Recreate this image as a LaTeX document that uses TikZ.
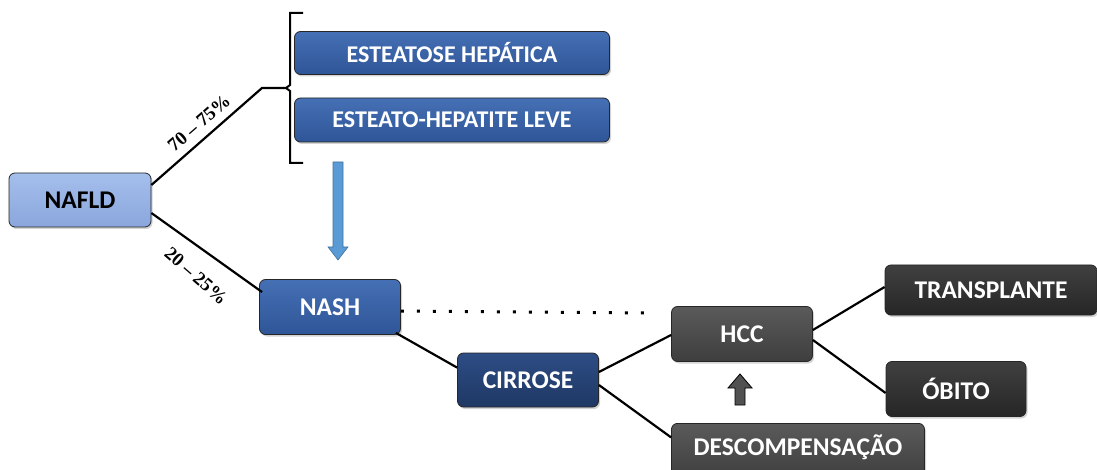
\documentclass[tikz,border=0pt]{standalone}
\usepackage{fontspec}
\setmainfont{Carlito}
\newfontfamily\serifb{Liberation Serif}
\usetikzlibrary{shadows,calc}
\definecolor{nafldtop}{HTML}{A5BFEC}
\definecolor{nafldbot}{HTML}{8AA6DC}
\definecolor{bluetop}{HTML}{4670B5}
\definecolor{bluebot}{HTML}{2E5597}
\definecolor{navytop}{HTML}{2D4D85}
\definecolor{navybot}{HTML}{1F3864}
\definecolor{graytop}{HTML}{5A5A5A}
\definecolor{graybot}{HTML}{3E3E3E}
\definecolor{darktop}{HTML}{404040}
\definecolor{darkbot}{HTML}{262626}
\definecolor{arrowblue}{HTML}{5B9BD5}
\definecolor{arrowbd}{HTML}{41719C}
\begin{document}
\begin{tikzpicture}[x=1pt,y=-1pt,
  box/.style={draw=black!85,line width=0.8pt,rounded corners=6pt,
    font=\fontsize{25.5}{30}\selectfont\bfseries,text=white,
    drop shadow={shadow xshift=1.5pt,shadow yshift=-2pt,opacity=0.35},
    inner sep=0pt},
  lightbox/.style={box,top color=nafldtop,bottom color=nafldbot,text=black},
  bluebox/.style={box,top color=bluetop,bottom color=bluebot},
  longbox/.style={bluebox,font=\fontsize{24}{28}\selectfont\bfseries},
  navybox/.style={box,top color=navytop,bottom color=navybot},
  graybox/.style={box,top color=graytop,bottom color=graybot},
  darkbox/.style={box,top color=darktop,bottom color=darkbot},
  conn/.style={line width=2.2pt,black},
  pct/.style={font=\serifb\fontsize{19}{22}\selectfont\bfseries,inner sep=1pt}]
\useasboundingbox (0,0) rectangle (1097,470);

\node[lightbox,minimum width=142pt,minimum height=54pt] (nafld) at (80,200) {NAFLD};
\node[longbox,minimum width=315pt,minimum height=43pt] (est1) at (452,53) {ESTEATOSE HEPÁTICA};
\node[longbox,minimum width=315pt,minimum height=44pt] (est2) at (452,120) {ESTEATO-HEPATITE LEVE};
\node[bluebox,minimum width=141pt,minimum height=55pt] (nash) at (330,307) {NASH};
\node[navybox,minimum width=141pt,minimum height=54pt] (cirr) at (528,380) {CIRROSE};
\node[graybox,minimum width=141pt,minimum height=55pt] (hcc) at (742,334) {HCC};
\node[darkbox,minimum width=212pt,minimum height=50pt] (trans) at (991,290) {TRANSPLANTE};
\node[darkbox,minimum width=140pt,minimum height=55pt] (obito) at (956,389) {ÓBITO};
\node[graybox,minimum width=253pt,minimum height=56pt,anchor=north] (desc) at (798,423) {};
\node[font=\fontsize{25.5}{30}\selectfont\bfseries,text=white] (desct) at (798,447) {DESCOMPENSAÇÃO};

% bracket
\coordinate (bk) at (287,88);
\coordinate (bend) at (262,88);
\draw[line width=2pt,line join=miter] (303,13) -- (290,13) -- (290,85) -- (286,88) -- (290,91) -- (290,163) -- (303,163);

% connectors
\draw[conn] ($(nafld.east)+(0,-15)$) -- (bend) -- (bk);
\draw[conn] ($(nafld.east)+(0,13)$) -- ($(nash.north west)+(3,13)$);
\draw[conn] ($(nash.south east)+(-5,-2)$) -- ($(cirr.north west)+(0,15)$);
\coordinate (dotend) at (655,313);
\draw[line width=3pt,dash pattern=on 3pt off 13pt] ($(nash.east)+(0,4)$) -- (dotend);
\draw[conn] ($(cirr.east)+(0,-8)$) -- ($(hcc.west)+(0,1)$);
\draw[conn] ($(cirr.east)+(0,5)$) -- ($(desc.west)+(0,-14)$);
\draw[conn] ($(hcc.east)+(0,-4)$) -- ($(trans.west)+(0,-3)$);
\draw[conn] ($(hcc.east)+(0,6)$) -- ($(obito.west)+(0,4)$);

% labels
\node[pct,rotate=41] (p1) at (199,123) {70 – 75\%};
\node[pct,rotate=-41] (p2) at (196,276) {20 – 25\%};

% blue down arrow
\draw[arrowbd,fill=arrowblue,line width=0.6pt] (333,162) -- (343,162) -- (343,247) -- (348,247) -- (338,260) -- (328,247) -- (333,247) -- cycle;
% gray up arrow
\draw[black,fill=graybot!90,line width=0.8pt] (735,405) -- (745,405) -- (745,388) -- (752,388) -- (740,374) -- (728,388) -- (735,388) -- cycle;
\end{tikzpicture}
\end{document}
